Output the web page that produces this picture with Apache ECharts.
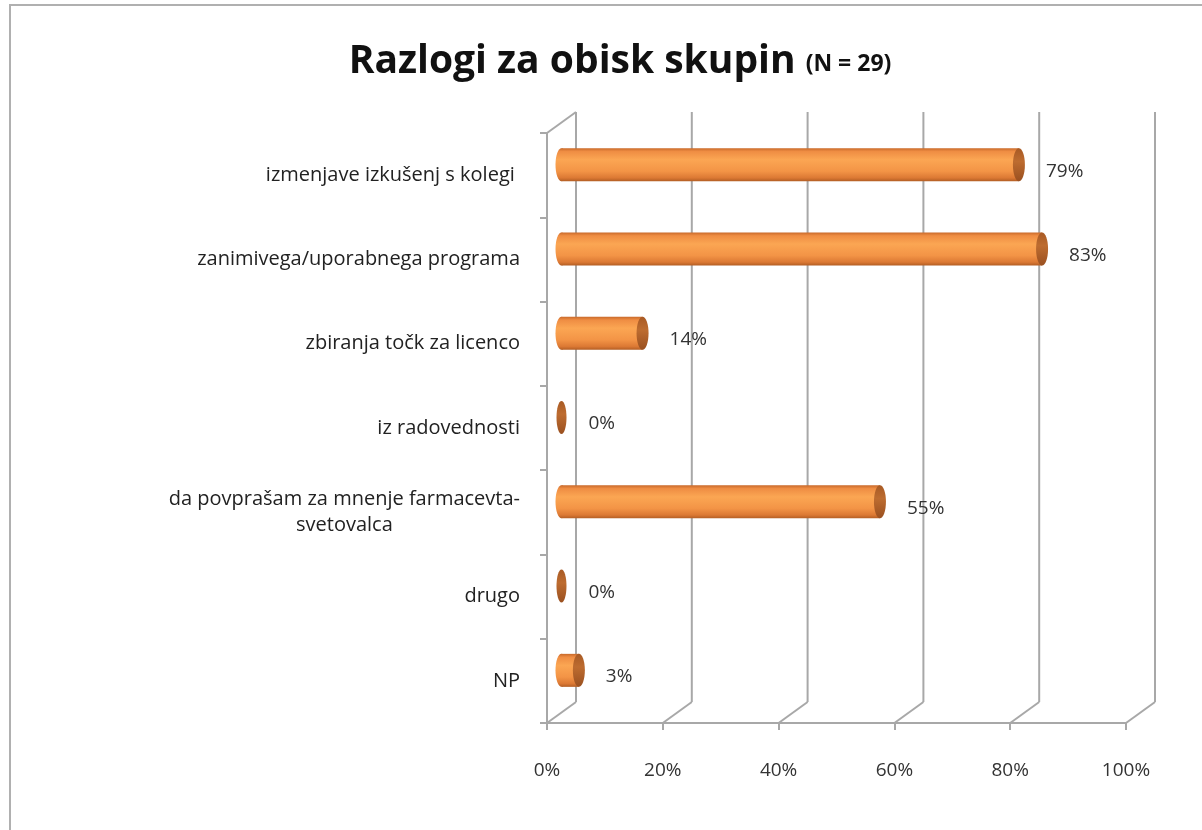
<!DOCTYPE html>
<html><head><meta charset="utf-8">
<script src="https://cdn.jsdelivr.net/npm/echarts@6/dist/echarts.min.js"></script>
<style>html,body{margin:0;padding:0;background:#fff}#c{width:1202px;height:830px}</style>
</head><body><div id="c"></div>
<script>
// ---- data ----
const categories = ['izmenjave izkušenj s kolegi ', 'zanimivega/uporabnega programa', 'zbiranja točk za licenco', 'iz radovednosti', 'da povprašam za mnenje farmacevta-svetovalca', 'drugo', 'NP'];
const values = [79, 83, 14, 0, 55, 0, 3];
const xTicks = [0, 20, 40, 60, 80, 100];
const titleMain = 'Razlogi za obisk skupin';
const titleSub = '(N = 29)';

// ---- style ----
const FONT = 'Open Sans';
const DX = 29, DY = -21;           // 3D depth offset
const RY = 16.5, RX = 6;           // cylinder radii
const LINE = { stroke: '#a8a8a8', lineWidth: 2 };

const chart = echarts.init(document.getElementById('c'), null, { renderer: 'canvas' });

const bodyGrad = new echarts.graphic.LinearGradient(0, 0, 0, 1, [
  { offset: 0, color: '#c8692a' },
  { offset: 0.1, color: '#ef8d43' },
  { offset: 0.35, color: '#fba653' },
  { offset: 0.7, color: '#f39446' },
  { offset: 0.9, color: '#dc7934' },
  { offset: 1, color: '#b35e24' }
]);
const capGrad = new echarts.graphic.LinearGradient(0, 0, 0, 1, [
  { offset: 0, color: '#a85a24' },
  { offset: 0.4, color: '#bd6c30' },
  { offset: 1, color: '#9a5020' }
]);

function wrapLabel(s) {
  if (s.length > 35) {
    const k = s.lastIndexOf('-');
    if (k > 0) return '{a|' + s.slice(0, k + 1) + '}\n{c|' + s.slice(k + 1) + '}';
  }
  return '{a|' + s + '}';
}

function renderFrame(params, api) {
  const cs = params.coordSys;
  const x = api.coord([api.value(0), 0])[0];
  const top = cs.y, bottom = cs.y + cs.height;
  const children = [
    { type: 'line', shape: { x1: x, y1: bottom, x2: x + DX, y2: bottom + DY }, style: LINE },
    { type: 'line', shape: { x1: x + DX, y1: top + DY, x2: x + DX, y2: bottom + DY }, style: LINE }
  ];
  if (params.dataIndex === 0) {
    children.push({ type: 'line', shape: { x1: cs.x, y1: top, x2: cs.x + DX, y2: top + DY }, style: LINE });
  }
  return { type: 'group', children };
}

function renderBar(params, api) {
  const v = api.value(0), idx = api.value(1);
  const p0 = api.coord([0, idx]), p1 = api.coord([v, idx]);
  const cx0 = p0[0] + DX / 2, cx1 = p1[0] + DX / 2, cy = p0[1] + DY / 2;
  const children = [];
  if (v > 0) {
    children.push({ type: 'ellipse', shape: { cx: cx0, cy: cy, rx: RX, ry: RY }, style: { fill: bodyGrad } });
    children.push({ type: 'rect', shape: { x: cx0, y: cy - RY, width: cx1 - cx0, height: 2 * RY }, style: { fill: bodyGrad } });
  }
  children.push({ type: 'ellipse', shape: { cx: cx1, cy: cy, rx: RX - (v > 0 ? 0 : 1), ry: RY }, style: { fill: capGrad } });
  children.push({
    type: 'text',
    style: {
      x: cx1 + 27, y: p0[1] - 4, text: v + '%', fill: '#333',
      font: '19px "' + FONT + '"', align: 'left', verticalAlign: 'middle'
    }
  });
  return { type: 'group', children };
}

const option = {
  animation: false,
  backgroundColor: '#fff',
  graphic: [{
    type: 'rect', shape: { x: 10, y: 5, width: 1400, height: 1000 },
    style: { fill: 'none', stroke: '#b0b0b0', lineWidth: 2 }, z: 0
  }],
  title: {
    text: '{m|' + titleMain + '}  {s|' + titleSub + '}',
    left: 615, top: 24, textAlign: 'center',
    textStyle: {
      rich: {
        m: { fontFamily: FONT, fontWeight: 'bold', fontSize: 39, color: '#111', lineHeight: 52, verticalAlign: 'bottom' },
        s: { fontFamily: FONT, fontWeight: 'bold', fontSize: 23, color: '#111', lineHeight: 52, verticalAlign: 'bottom', padding: [0, 0, 5, 0] }
      }
    }
  },
  grid: { left: 547, right: 76, top: 133, bottom: 107, outerBoundsMode: 'none' },
  xAxis: {
    type: 'value', min: 0, max: 100, interval: 20,
    axisLine: { show: true, lineStyle: { color: '#a8a8a8', width: 2 } },
    axisTick: { show: true, length: 7, lineStyle: { color: '#a8a8a8', width: 2 } },
    splitLine: { show: false },
    axisLabel: { formatter: '{value}%', fontFamily: FONT, fontSize: 19, color: '#333', margin: 38 }
  },
  yAxis: {
    type: 'category', data: categories, inverse: true,
    axisLine: { show: true, lineStyle: { color: '#a8a8a8', width: 2 } },
    axisTick: { show: true, length: 7, lineStyle: { color: '#a8a8a8', width: 2 } },
    axisLabel: {
      margin: 27, align: 'right',
      formatter: wrapLabel,
      rich: {
        a: { fontFamily: FONT, fontSize: 20, color: '#222', lineHeight: 26, align: 'right' },
        c: { fontFamily: FONT, fontSize: 20, color: '#222', lineHeight: 26, align: 'center' }
      }
    }
  },
  series: [
    { type: 'custom', name: 'frame', renderItem: renderFrame, data: xTicks.map(v => [v]), encode: { x: 0 }, z: 1, silent: true },
    { type: 'custom', name: 'bars', renderItem: renderBar, data: values.map((v, i) => [v, i]), encode: { x: 0, y: 1 }, z: 3 }
  ]
};
chart.setOption(option);
</script>
</body></html>
